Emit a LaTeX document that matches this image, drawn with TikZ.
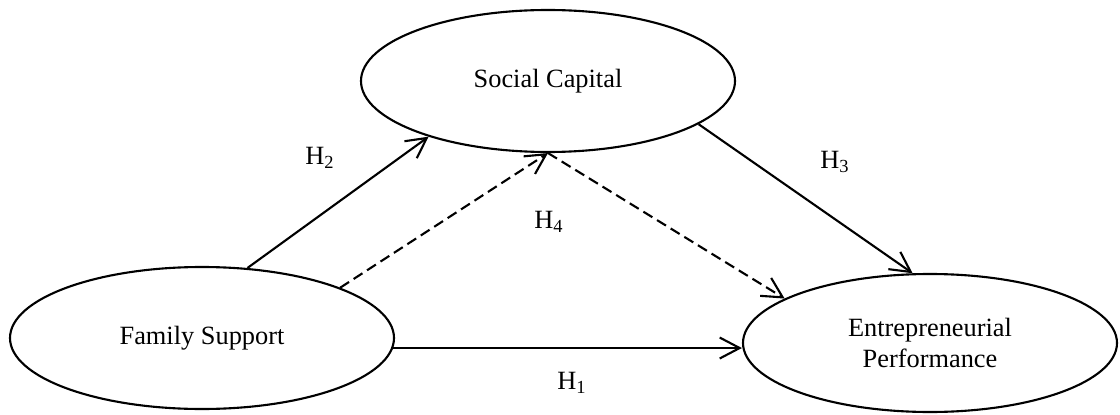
\documentclass[tikz,border=0pt]{standalone}
\usepackage{fontspec}
\setmainfont{Liberation Serif}
\usetikzlibrary{arrows.meta, shapes.geometric}

\begin{document}
\begin{tikzpicture}[
        font = \fontsize{15pt}{18pt}\selectfont,
        latent/.style = {draw, ellipse, line width = 1.2pt, inner sep = 0pt, align = center},
        hyp/.style = {line width = 1.2pt, -{Straight Barb[length = 4mm, width = 4.2mm, line width = 1.2pt]}},
        hypdash/.style = {hyp, dash pattern = on 2.1mm off 1.1mm}
    ]
    \useasboundingbox (0, 0) rectangle (22.4, 8.28);
    % constructs
    \node[latent, minimum width = 7.48cm, minimum height = 2.84cm] (sc) at (10.96, 6.66){Social Capital};
    \node[latent, minimum width = 7.68cm, minimum height = 2.84cm] (fs) at (4.04, 1.52){Family Support};
    \node[latent, minimum width = 7.48cm, minimum height = 2.76cm] (ep) at (18.6, 1.42){Entrepreneurial\\Performance};
    % hypotheses
    \draw[hyp] (fs.57) -- (sc.205);
    \draw[hyp] (sc.344) -- (ep.104.6);
    \draw[hyp] (fs.-3) -- (fs.-3 -| ep.west);
    \draw[hypdash] (fs.20) -- (sc.270);
    \draw[hypdash] (sc.270) -- (ep.163.3);
    % labels
    \node (h2) at (6.4, 5.12){H\textsubscript{2}};
    \node (h4) at (10.98, 3.84){H\textsubscript{4}};
    \node (h3) at (16.7, 5.04){H\textsubscript{3}};
    \node (h1) at (11.44, 0.62){H\textsubscript{1}};
\end{tikzpicture}
\end{document}
